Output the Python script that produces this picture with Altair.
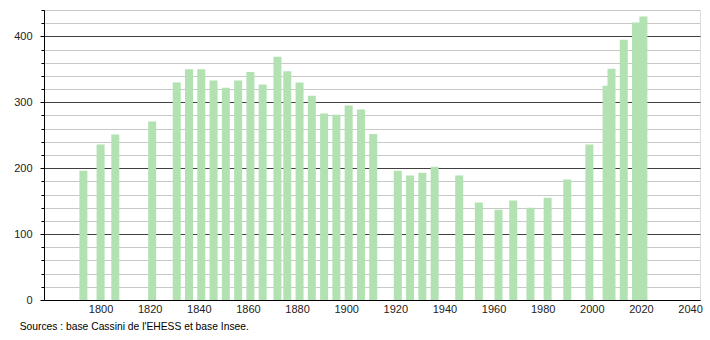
import altair as alt
import pandas as pd

years = [1793, 1800, 1806, 1821, 1831, 1836, 1841, 1846, 1851, 1856,
         1861, 1866, 1872, 1876, 1881, 1886, 1891, 1896, 1901, 1906,
         1911, 1921, 1926, 1931, 1936, 1946, 1954, 1962, 1968, 1975,
         1982, 1990, 1999, 2006, 2008, 2013, 2018, 2021]
population = [196, 236, 251, 271, 330, 350, 350, 333, 322, 333,
              346, 327, 369, 347, 330, 310, 283, 281, 295, 289,
              252, 196, 189, 193, 202, 189, 148, 137, 151, 140,
              155, 183, 236, 325, 351, 395, 421, 430]
x_ticks = [1800, 1820, 1840, 1860, 1880, 1900, 1920, 1940, 1960, 1980, 2000, 2020, 2040]
y_ticks = [0, 20, 40, 60, 80, 100, 120, 140, 160, 180, 200, 220, 240, 260, 280,
           300, 320, 340, 360, 380, 400, 420, 440]
source_text = "Sources : base Cassini de l'EHESS et base Insee."

df = pd.DataFrame({"year": years, "pop": population})

xscale = alt.Scale(domain=[1779, 2042], nice=False, zero=False)
yscale = alt.Scale(domain=[0, 440], nice=False)

FONT = "Liberation Sans"
major_test = "datum.value % 100 === 0"

bars = alt.Chart(df).mark_bar(size=8, color="#b2e2b2").encode(
    x=alt.X("year:Q", scale=xscale,
            axis=alt.Axis(values=x_ticks, format="d", ticks=False, domain=True,
                          domainColor="black", grid=False, title=None,
                          labelFont=FONT, labelFontSize=11, labelColor="#222",
                          labelPadding=3)),
    y=alt.Y("pop:Q", scale=yscale,
            axis=alt.Axis(values=y_ticks, title=None,
                          labelExpr=f"{major_test} ? datum.label : ''",
                          tickSize={"condition": {"test": major_test, "value": 4}, "value": 3},
                          tickColor="black", domainColor="black",
                          grid=True,
                          gridColor={"condition": {"test": major_test, "value": "#404040"},
                                     "value": "#c8c8c8"},
                          gridOpacity=1,
                          labelFont=FONT, labelFontSize=11, labelColor="#222",
                          labelPadding=8)),
)

chart = bars.properties(
    width=656,
    height=290,
    padding={"left": 44, "top": 10, "right": 10, "bottom": 40},
    autosize=alt.AutoSizeParams(type="none"),
    title=alt.TitleParams(source_text, orient="bottom", anchor="start", dx=6,
                          offset=8, font=FONT, fontSize=10.3, fontWeight="normal",
                          color="black"),
).configure_view(stroke=None).configure(background="white")

chart.save("out.html", embed_options={"renderer": "svg", "actions": False})
